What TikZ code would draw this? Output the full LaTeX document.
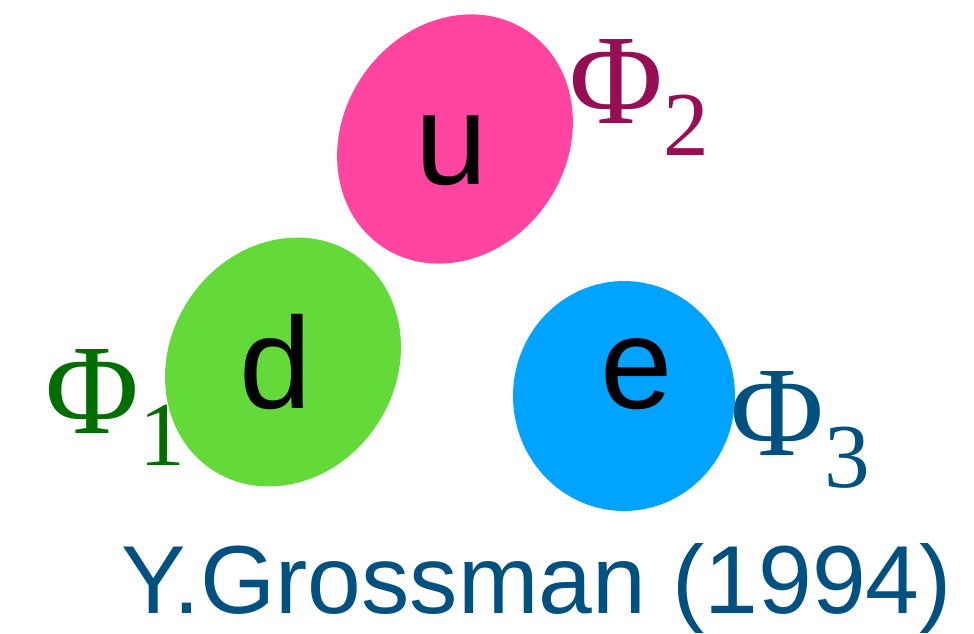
\documentclass[tikz,border=0pt]{standalone}
\usepackage{fontspec}
\setmainfont{Liberation Sans}
\newfontfamily\phifont{Liberation Serif}
\usepackage{tikz}
\usetikzlibrary{shapes.geometric, positioning}
\definecolor{QuarkPink}{RGB}{255, 69, 160}
\definecolor{QuarkGreen}{RGB}{99, 217, 58}
\definecolor{LeptonBlue}{RGB}{0, 163, 255}
\definecolor{PhiPurple}{RGB}{150, 15, 85}
\definecolor{PhiGreen}{RGB}{0, 110, 0}
\definecolor{PhiBlue}{RGB}{0, 80, 128}
\newcommand{\phisub}[1]{{\fontsize{73}{73}\selectfont\phifont Φ}\raisebox{-0.64cm}{\fontsize{52}{52}\selectfont\phifont #1}}

\begin{document}
\begin{tikzpicture}[
            x=0.02cm, y=-0.02cm,
            blob/.style={ellipse, draw=none, inner sep=0pt},
            flavour/.style={anchor=base, inner sep=0pt, font=\fontsize{74}{74}\selectfont},
            doublet/.style={anchor=base west, inner sep=0pt}
        ]
        \useasboundingbox (0,0) rectangle (974,633);

        % --- Phi_1 (lezy pod zielona elipsa) ---
        \node[doublet, text=PhiGreen] (phione) at (45,433) {\phisub{1}};

        % --- ELIPSY ---
        \node[blob, fill=QuarkPink, minimum width=5.2cm, minimum height=4.48cm, rotate=56] (ublob) at (455,139) {};
        \node[blob, fill=QuarkGreen, minimum width=5.16cm, minimum height=4.52cm, rotate=57] (dblob) at (283,362) {};
        \node[blob, fill=LeptonBlue, minimum width=4.44cm, minimum height=4.6cm] (eblob) at (624,396) {};

        % --- LITERY ---
        \node[flavour] (u) at (452,184) {u};
        \node[flavour] (d) at (276,408) {d};
        \node[flavour] (e) at (637,408) {e};

        % --- Phi_2, Phi_3 ---
        \node[doublet, text=PhiPurple] (phitwo) at (569,123) {\phisub{2}};
        \node[doublet, text=PhiBlue] (phithree) at (730,455) {\phisub{3}};

        % --- PODPIS ---
        \node[doublet, text=PhiBlue, font=\fontsize{55}{55}\selectfont] (cite) at (121,613) {Y.Grossman (1994)};

        \end{tikzpicture}
\end{document}
